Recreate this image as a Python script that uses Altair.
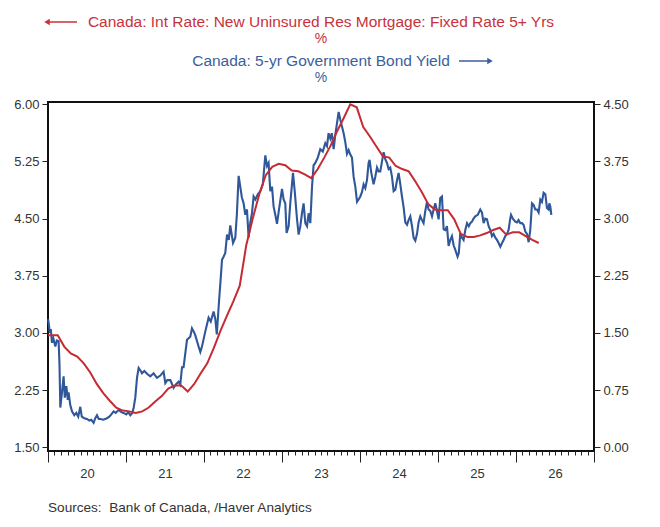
import altair as alt
import pandas as pd

FONT = "Liberation Sans"
RED = "#C62B33"
BLUE = "#2F5799"
RED_TEXT = "#C8323A"
BLUE_TEXT = "#3D5E9C"

# Canada: new uninsured residential mortgage rate, fixed 5+ yrs (%), monthly from Dec 2019
mortgage_first_month = "2019-12"
mortgage_rate = [
    2.97,
    2.97, 2.97, 2.82, 2.73, 2.69, 2.60, 2.48, 2.33, 2.21, 2.11, 2.02, 1.98,
    1.97, 1.95, 1.97, 2.02, 2.10, 2.17, 2.27, 2.31, 2.31, 2.23, 2.33, 2.47,
    2.60, 2.80, 3.02, 3.22, 3.41, 3.62, 4.15, 4.50, 4.82, 5.07, 5.18, 5.22,
    5.20, 5.13, 5.12, 5.08, 5.03, 5.15, 5.30, 5.46, 5.65, 5.82, 6.00, 5.96,
    5.70, 5.58, 5.45, 5.32, 5.30, 5.19, 5.15, 5.12, 4.99, 4.85, 4.69, 4.62,
    4.61, 4.61, 4.49, 4.30, 4.26, 4.26, 4.28, 4.31, 4.35, 4.38, 4.29, 4.32,
    4.32, 4.27, 4.22, 4.18,
]

# Canada: 5-yr government bond yield (%), observation times in years since start of 2020
bond_years = [
    0.001, 0.010, 0.023, 0.036, 0.051, 0.068, 0.094, 0.113, 0.136, 0.147,
    0.158, 0.177, 0.200, 0.215, 0.235, 0.254, 0.264, 0.286, 0.308, 0.337,
    0.363, 0.388, 0.414, 0.433, 0.465, 0.500, 0.529, 0.555, 0.585, 0.606,
    0.628, 0.651, 0.671, 0.709, 0.756, 0.786, 0.812, 0.841, 0.869, 0.905,
    0.940, 0.969, 1.004, 1.029, 1.055, 1.081, 1.097, 1.119, 1.141, 1.162,
    1.183, 1.205, 1.235, 1.273, 1.312, 1.354, 1.397, 1.440, 1.482, 1.504,
    1.529, 1.568, 1.610, 1.645, 1.674, 1.696, 1.718, 1.738, 1.782, 1.824,
    1.846, 1.867, 1.888, 1.931, 1.953, 1.974, 2.017, 2.059, 2.087, 2.123,
    2.145, 2.164, 2.187, 2.200, 2.213, 2.231, 2.251, 2.273, 2.295, 2.318,
    2.337, 2.372, 2.401, 2.421, 2.444, 2.465, 2.485, 2.508, 2.529, 2.551,
    2.572, 2.594, 2.615, 2.636, 2.658, 2.690, 2.722, 2.754, 2.786, 2.808,
    2.828, 2.850, 2.872, 2.892, 2.914, 2.936, 2.959, 3.000, 3.021, 3.042,
    3.059, 3.085, 3.106, 3.141, 3.164, 3.192, 3.213, 3.235, 3.256, 3.277,
    3.299, 3.321, 3.341, 3.363, 3.385, 3.405, 3.427, 3.459, 3.491, 3.523,
    3.555, 3.577, 3.597, 3.619, 3.638, 3.662, 3.683, 3.705, 3.726, 3.747,
    3.769, 3.790, 3.812, 3.833, 3.854, 3.876, 3.897, 3.918, 3.940, 3.962,
    3.982, 4.004, 4.026, 4.046, 4.068, 4.090, 4.110, 4.123, 4.145, 4.174,
    4.196, 4.218, 4.238, 4.260, 4.282, 4.303, 4.324, 4.346, 4.367, 4.388,
    4.410, 4.431, 4.453, 4.474, 4.495, 4.517, 4.538, 4.559, 4.581, 4.603,
    4.623, 4.645, 4.667, 4.687, 4.709, 4.731, 4.751, 4.773, 4.795, 4.815,
    4.837, 4.859, 4.879, 4.901, 4.923, 4.944, 4.965, 4.987, 5.008, 5.029,
    5.051, 5.072, 5.094, 5.115, 5.136, 5.158, 5.179, 5.200, 5.222, 5.251,
    5.267, 5.286, 5.308, 5.328, 5.350, 5.372, 5.395, 5.414, 5.436, 5.456,
    5.478, 5.510, 5.542, 5.564, 5.585, 5.606, 5.628, 5.649, 5.671, 5.692,
    5.713, 5.735, 5.756, 5.777, 5.799, 5.821, 5.841, 5.863, 5.885, 5.905,
    5.926, 5.936, 5.959, 5.991, 6.013, 6.033, 6.055, 6.077, 6.097, 6.119,
    6.141, 6.162, 6.183, 6.205, 6.226, 6.247, 6.269, 6.290, 6.312, 6.333,
    6.354, 6.376, 6.397, 6.418, 6.427, 6.440, 6.453,
]
bond_yield = [
    1.68, 1.62, 1.50, 1.55, 1.37, 1.43, 1.32, 1.40, 1.39, 1.10,
    0.52, 0.70, 0.93, 0.65, 0.80, 0.62, 0.72, 0.55, 0.47, 0.42,
    0.45, 0.40, 0.53, 0.40, 0.38, 0.37, 0.35, 0.36, 0.32, 0.38,
    0.42, 0.37, 0.37, 0.36, 0.38, 0.40, 0.43, 0.47, 0.45, 0.49,
    0.46, 0.45, 0.43, 0.46, 0.42, 0.45, 0.51, 0.65, 0.91, 1.04,
    1.01, 0.97, 1.00, 0.96, 0.93, 0.97, 0.91, 0.94, 0.99, 0.84,
    0.88, 0.88, 0.78, 0.83, 0.86, 0.82, 1.05, 1.05, 1.41, 1.45,
    1.56, 1.52, 1.47, 1.32, 1.25, 1.32, 1.52, 1.70, 1.65, 1.78,
    1.68, 1.48, 1.83, 2.02, 2.20, 2.46, 2.50, 2.55, 2.79, 2.72,
    2.91, 2.68, 2.75, 3.05, 3.56, 3.42, 3.28, 3.20, 3.05, 3.12,
    2.75, 2.95, 3.07, 3.29, 3.25, 3.32, 3.36, 3.45, 3.83, 3.69,
    3.73, 3.36, 3.42, 3.16, 3.05, 2.93, 3.10, 3.39, 3.25, 3.20,
    2.81, 2.90, 3.20, 3.60, 3.35, 3.00, 2.79, 2.90, 3.07, 3.20,
    2.94, 2.90, 3.07, 2.94, 3.42, 3.70, 3.73, 3.80, 3.91, 3.88,
    3.99, 3.95, 4.12, 4.05, 4.12, 3.91, 4.10, 4.25, 4.40, 4.30,
    4.21, 4.12, 4.00, 3.85, 3.90, 3.84, 3.80, 3.55, 3.42, 3.22,
    3.25, 3.29, 3.35, 3.45, 3.40, 3.51, 3.73, 3.77, 3.60, 3.45,
    3.55, 3.67, 3.62, 3.62, 3.75, 3.87, 3.78, 3.73, 3.65, 3.67,
    3.55, 3.36, 3.38, 3.50, 3.60, 3.45, 3.29, 3.15, 2.95, 2.92,
    2.98, 3.03, 2.90, 2.75, 2.71, 2.80, 2.95, 3.03, 2.98, 2.94,
    3.10, 3.22, 3.12, 3.10, 3.03, 3.12, 3.20, 3.10, 2.99, 3.27,
    3.29, 2.86, 2.85, 2.90, 2.64, 2.72, 2.77, 2.65, 2.59, 2.50,
    2.55, 2.81, 2.75, 2.72, 2.85, 2.94, 2.90, 2.94, 2.96, 3.00,
    3.03, 3.05, 3.12, 3.08, 2.94, 3.00, 2.99, 2.90, 2.85, 2.77,
    2.80, 2.75, 2.72, 2.68, 2.63, 2.68, 2.72, 2.77, 2.80, 2.85,
    3.00, 3.05, 3.00, 2.96, 2.95, 2.98, 2.94, 2.94, 2.92, 2.83,
    2.80, 2.69, 2.85, 3.20, 3.18, 3.12, 3.12, 3.08, 3.25, 3.22,
    3.34, 3.32, 3.14, 3.12, 3.20, 3.16, 3.05,
]
assert len(bond_years) == len(bond_yield)

year_range = [2020, 2027]
left_ticks = [1.50, 2.25, 3.00, 3.75, 4.50, 5.25, 6.00]
right_ticks = [0.00, 0.75, 1.50, 2.25, 3.00, 3.75, 4.50]
left_domain = [1.45, 6.03]
right_domain = [-0.05, 4.53]

mortgage_title = "Canada: Int Rate: New Uninsured Res Mortgage: Fixed Rate 5+ Yrs"
bond_title = "Canada: 5-yr Government Bond Yield"
unit_label = "%"
source_note = "Sources:\u00a0 Bank of Canada, /Haver Analytics"

# ---- tables -------------------------------------------------------------
months = pd.period_range(mortgage_first_month, periods=len(mortgage_rate), freq="M")
mortgage = pd.DataFrame({
    "year": [p.year + (p.month - 0.5) / 12 for p in months],
    "value": mortgage_rate,
})
bond = pd.DataFrame({
    "year": [year_range[0] + t for t in bond_years],
    "value": bond_yield,
})

W, H = 546, 349

# monthly tick marks, long ones at year boundaries, year label mid-year
month_ticks = [year_range[0] + k / 12 for k in range(12 * (year_range[1] - year_range[0]) + 1)]
x_scale = alt.Scale(domain=year_range, nice=False, zero=False)
x_axis = alt.Axis(
    values=month_ticks,
    labelExpr="abs(datum.value - floor(datum.value) - 0.5) < 0.001 ? format(floor(datum.value) % 100, '02d') : ''",
    tickSize={"condition": {"test": "abs(datum.value - round(datum.value)) < 0.001", "value": 11}, "value": 4},
    labelPadding=12,
    labelOverlap=False,
    labelFlush=False,
    labelBaseline="top",
    title=None,
)
x_enc = alt.X("year:Q", scale=x_scale, axis=x_axis)

bond_line = alt.Chart(bond).mark_line(color=BLUE, strokeWidth=2.1).encode(
    x=x_enc,
    y=alt.Y(
        "value:Q",
        scale=alt.Scale(domain=right_domain, nice=False, zero=False),
        axis=alt.Axis(orient="right", values=right_ticks, format=".2f",
                      tickSize=6, labelPadding=3, title=None),
    ),
)

mortgage_line = alt.Chart(mortgage).mark_line(color=RED, strokeWidth=2, clip=True).encode(
    x=x_enc,
    y=alt.Y(
        "value:Q",
        scale=alt.Scale(domain=left_domain, nice=False, zero=False),
        axis=alt.Axis(orient="left", values=left_ticks, format=".2f",
                      tickSize=6, labelPadding=3, title=None),
    ),
)


def label(text, x, y, color, size=15.5, align="center"):
    return alt.Chart(pd.DataFrame({"t": [text]})).mark_text(
        font=FONT, fontSize=size, color=color, align=align, baseline="middle"
    ).encode(text="t:N", x=alt.value(x), y=alt.value(y))


def arrow(x0, x1, y, color, head):
    one = pd.DataFrame({"k": [0]})
    shaft = alt.Chart(one).mark_rule(color=color, strokeWidth=1.5).encode(
        x=alt.value(x0), x2=alt.value(x1), y=alt.value(y)
    )
    tip_x = x0 if head == "left" else x1
    tip = alt.Chart(one).mark_point(
        shape="triangle-" + head, filled=True, size=40, color=color, opacity=1
    ).encode(x=alt.value(tip_x), y=alt.value(y))
    return [shaft, tip]


annotations = [
    label(mortgage_title, W / 2, -80.5, RED_TEXT),
    label(unit_label, W / 2, -63.5, RED_TEXT, size=14),
    label(bond_title, W / 2, -41.5, BLUE_TEXT),
    label(unit_label, W / 2, -24.5, BLUE_TEXT, size=14),
    label(source_note, 0, 406, "#333333", size=13.6, align="left"),
    *arrow(-1, 29, -80, RED_TEXT, "left"),
    *arrow(411, 442, -41, BLUE_TEXT, "right"),
]

chart = (
    alt.layer(bond_line, mortgage_line, *annotations)
    .resolve_scale(y="independent")
    .properties(
        width=W,
        height=H,
        autosize=alt.AutoSizeParams(type="none"),
        padding={"left": 48, "top": 102, "right": 66, "bottom": 76},
        background="white",
    )
    .configure_view(stroke="#111111", strokeWidth=2)
    .configure_axis(
        labelFont=FONT,
        labelFontSize=13,
        labelColor="#333333",
        tickColor="#222222",
        tickWidth=1,
        domain=False,
        grid=False,
    )
)

chart.save("out.html", embed_options={"renderer": "svg", "actions": False})
